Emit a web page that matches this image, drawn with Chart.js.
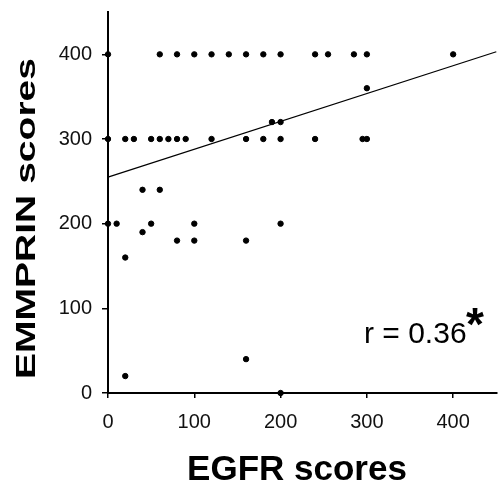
<!DOCTYPE html>
<html>
<head>
<meta charset="utf-8">
<script src="https://cdn.jsdelivr.net/npm/chart.js@4"></script>
<style>
  html, body { margin: 0; padding: 0; background: #fff; }
  #wrap { width: 500px; height: 485px; }
</style>
</head>
<body>
<div id="wrap"><canvas id="grafico"></canvas></div>
<script>
// pontos EGFR x EMMPRIN
var egfr    = [0, 60, 80, 100, 120, 140, 160, 180, 200, 240, 255, 285, 300, 400,
               300, 190, 200,
               0, 20, 30, 50, 60, 70, 80, 90, 120, 160, 180, 200, 240, 295, 300,
               40, 60, 0, 10, 50, 100, 200, 40, 80, 100, 160, 20, 160, 20, 200];
var emmprin = [400, 400, 400, 400, 400, 400, 400, 400, 400, 400, 400, 400, 400, 400,
               360, 320, 320,
               300, 300, 300, 300, 300, 300, 300, 300, 300, 300, 300, 300, 300, 300, 300,
               240, 240, 200, 200, 200, 200, 200, 190, 180, 180, 180, 160, 40, 20, 0];
// reta de regressao
var retaX = [0, 450];
var retaY = [255, 403];
var ticksX = [0, 100, 200, 300, 400];
var ticksY = [0, 100, 200, 300, 400];
var textoR = "r = 0.36";

var pontos = egfr.map(function (v, i) { return { x: v, y: emmprin[i] }; });
var reta = retaX.map(function (v, i) { return { x: v, y: retaY[i] }; });

var fonte = "'Liberation Sans', Arial, sans-serif";

// textos extras (titulos e r)
var textos = {
  id: "textos",
  afterDraw: function (chart) {
    var ctx = chart.ctx;
    ctx.save();
    ctx.fillStyle = "#000";
    // titulo x
    ctx.font = "bold 35px " + fonte;
    ctx.textAlign = "center";
    ctx.textBaseline = "alphabetic";
    ctx.fillText("EGFR scores", 297, 480);
    // titulo y (esticado)
    ctx.font = "bold 28px " + fonte;
    var w = ctx.measureText("EMMPRIN scores").width;
    ctx.translate(35, 218.5);
    ctx.rotate(-Math.PI / 2);
    ctx.scale(321 / w, 1);
    ctx.fillText("EMMPRIN scores", 0, 0);
    ctx.restore();

    ctx.save();
    ctx.fillStyle = "#000";
    ctx.font = "30px " + fonte;
    ctx.textAlign = "left";
    ctx.textBaseline = "alphabetic";
    ctx.fillText(textoR, 364, 343);
    ctx.font = "bold 46px " + fonte;
    ctx.fillText("*", 466, 340);
    ctx.restore();
  }
};

function semPadding(s) {
  s.paddingTop = 0; s.paddingBottom = 0;
  s.paddingLeft = 0; s.paddingRight = 0;
}

new Chart(document.getElementById("grafico"), {
  type: "scatter",
  data: {
    datasets: [
      {
        data: pontos,
        backgroundColor: "#000",
        borderColor: "#000",
        pointRadius: 2.7,
        pointHoverRadius: 2.7,
        clip: false
      },
      {
        type: "line",
        data: reta,
        borderColor: "#000",
        borderWidth: 1.2,
        pointRadius: 0,
        fill: false,
        clip: false
      }
    ]
  },
  options: {
    responsive: true,
    maintainAspectRatio: false,
    animation: false,
    events: [],
    layout: { padding: { top: 12, right: 2, left: 0, bottom: 0 } },
    plugins: { legend: { display: false }, tooltip: { enabled: false } },
    scales: {
      x: {
        type: "linear",
        min: 0,
        max: 450,
        afterFit: function (s) { s.height = 92; semPadding(s); },
        afterBuildTicks: function (s) { s.ticks = ticksX.map(function (v) { return { value: v }; }); },
        border: { display: true, color: "#000", width: 2 },
        grid: { drawOnChartArea: false, drawTicks: true, tickLength: 5, color: "#000", lineWidth: 1.5 },
        ticks: { color: "#111", font: { family: fonte, size: 20 }, padding: 12, maxRotation: 0 }
      },
      y: {
        type: "linear",
        min: 0,
        max: 450,
        afterFit: function (s) { s.width = 108; semPadding(s); },
        afterBuildTicks: function (s) { s.ticks = ticksY.map(function (v) { return { value: v }; }); },
        border: { display: true, color: "#000", width: 2 },
        grid: { drawOnChartArea: false, drawTicks: true, tickLength: 6, color: "#000", lineWidth: 1.5 },
        ticks: { color: "#111", font: { family: fonte, size: 20 }, padding: 10 }
      }
    }
  },
  plugins: [textos]
});
</script>
</body>
</html>
